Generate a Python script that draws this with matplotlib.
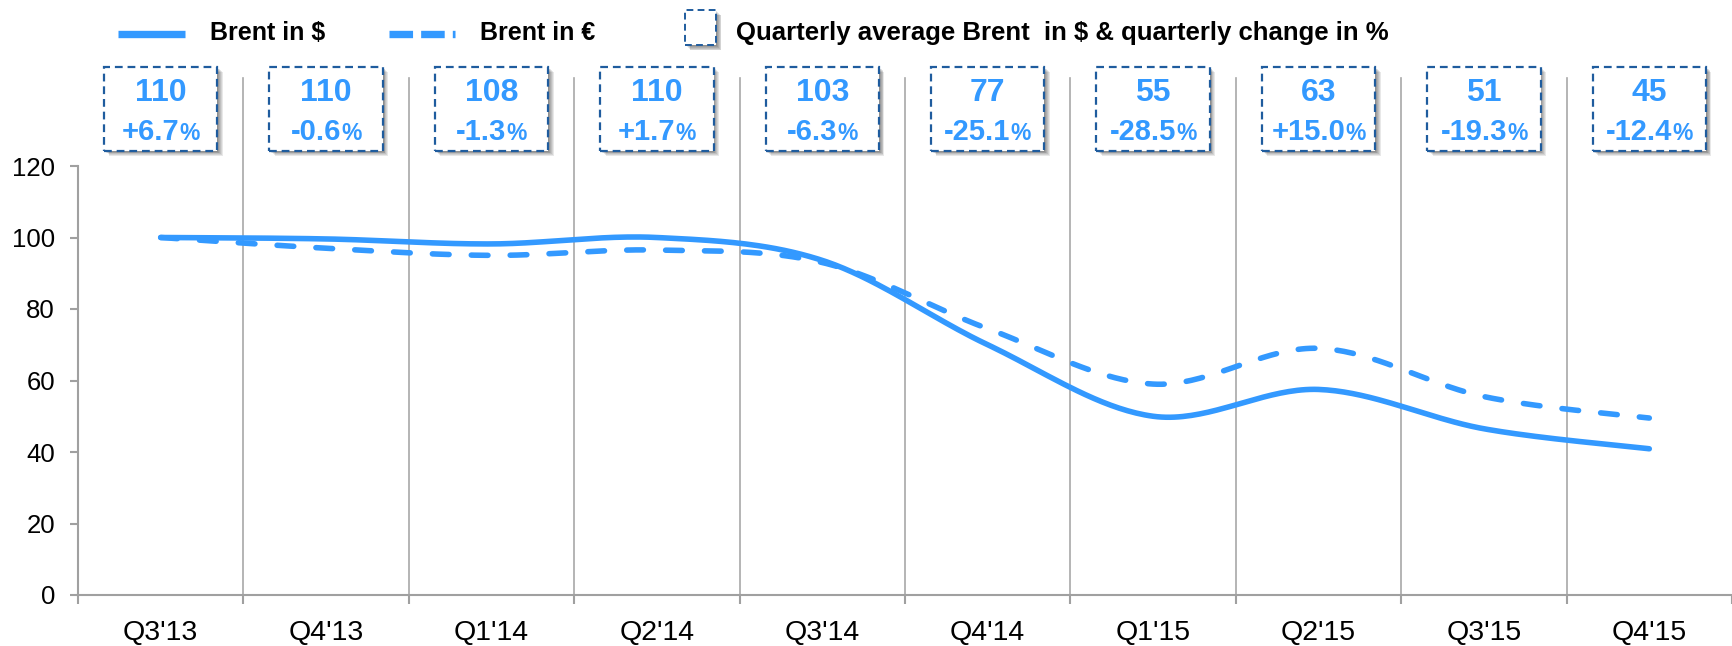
import matplotlib
matplotlib.use("Agg")
import matplotlib.pyplot as plt
import matplotlib.transforms as mtransforms
from matplotlib.lines import Line2D
from matplotlib.patches import Rectangle
from matplotlib.offsetbox import TextArea, HPacker, AnnotationBbox
import numpy as np

plt.rcParams['font.family'] = ['Liberation Sans', 'DejaVu Sans']

quarters = ["Q3'13", "Q4'13", "Q1'14", "Q2'14", "Q3'14", "Q4'14", "Q1'15", "Q2'15", "Q3'15", "Q4'15"]
brent_usd_idx = [100, 99.6, 98.2, 100, 93.6, 70, 50, 57.5, 46.5, 40.9]   # indexed, Q3'13 = 100
brent_eur_idx = [100, 97, 95, 96.5, 93, 74.5, 59, 69, 55.5, 49.5]
avg_usd = [110, 110, 108, 110, 103, 77, 55, 63, 51, 45]
qoq_change = ["+6.7", "-0.6", "-1.3", "+1.7", "-6.3", "-25.1", "-28.5", "+15.0", "-19.3", "-12.4"]

BLUE = "#3399ff"
NAVY = "#1f5c9e"
GREY = "#a0a0a0"

W, H = 1732, 646


def fx(px):
    return px / W


def fy(py):
    return 1 - py / H


def smooth(xs, ys, steps=40):
    """Excel style smoothed line: catmull-rom segments drawn as cubic beziers"""
    p = np.column_stack([xs, ys]).astype(float)
    p = np.vstack([p[0], p, p[-1]])
    t = np.linspace(0, 1, steps)[:, None]
    out = []
    for i in range(1, len(p) - 2):
        p0, p1, p2, p3 = p[i - 1], p[i], p[i + 1], p[i + 2]
        c1 = p1 + (p2 - p0) / 6
        c2 = p2 - (p3 - p1) / 6
        seg = (1 - t) ** 3 * p1 + 3 * (1 - t) ** 2 * t * c1 + 3 * (1 - t) * t ** 2 * c2 + t ** 3 * p2
        out.append(seg if i == 1 else seg[1:])
    out = np.vstack(out)
    return out[:, 0], out[:, 1]


def shadowed_box(x0, y0, w, h, trans, lw=1.6):
    # soft grey drop shadow, then white box with dashed navy border
    for k in range(1, 7):
        off = mtransforms.offset_copy(trans, fig=fig, x=k * 0.9, y=-k * 0.9, units='dots')
        fig.add_artist(Rectangle((x0, y0), w, h, transform=off, facecolor='#000000',
                                 edgecolor='none', alpha=0.09, clip_on=False, zorder=4))
    fig.add_artist(Rectangle((x0, y0), w, h, transform=trans, facecolor='white',
                             edgecolor=NAVY, lw=lw, ls=(0, (3.5, 2.2)), clip_on=False, zorder=5))


fig = plt.figure(figsize=(W / 100, H / 100), dpi=100)
ax = fig.add_axes([fx(78), 51 / H, 1 - fx(78), (595 - 166) / H])
x = np.arange(len(quarters))
ax.set_xlim(-0.5, -0.5 + (W - 78) / 166.6)
ax.set_ylim(0, 120)

# vertical separators between quarters, running up into the box row
for b in np.arange(0.5, len(quarters) - 1, 1):
    ax.axvline(b, ymin=0, ymax=(595 - 78) / (595 - 166), color='#a8a8a8', lw=1.2,
               clip_on=False, zorder=0)

sx, sy = smooth(x, brent_usd_idx)
ax.plot(sx, sy, color=BLUE, lw=4, solid_capstyle='round', zorder=3)
ex, ey = smooth(x, brent_eur_idx)
ax.plot(ex, ey, color=BLUE, lw=4, ls=(0, (3, 4)), dash_capstyle='round', zorder=3)

ax.set_xticks(np.arange(-0.5, len(quarters), 1))
ax.set_xticklabels([])
ax.set_xticks(x, minor=True)
ax.set_xticklabels(quarters, minor=True, fontsize=20.5)
ax.tick_params(axis='x', which='major', length=6.5, width=1.5, color=GREY, direction='out')
ax.tick_params(axis='x', which='minor', length=0, pad=18)
ax.set_yticks(range(0, 121, 20))
ax.tick_params(axis='y', length=5.5, width=1.5, color=GREY, labelsize=18.5, pad=11)
for s in ['top', 'right']:
    ax.spines[s].set_visible(False)
for s in ['left', 'bottom']:
    ax.spines[s].set_color(GREY)
    ax.spines[s].set_linewidth(1.5)

# quarterly average boxes
trans = mtransforms.blended_transform_factory(ax.transData, fig.transFigure)
bw = 0.685
for i in range(len(quarters)):
    shadowed_box(x[i] - bw / 2, fy(150.7), bw, (150.7 - 66.7) / H, trans)
    fig.text(x[i], fy(93), str(avg_usd[i]), transform=trans, fontsize=23, fontweight='bold',
             color=BLUE, ha='center', va='center', zorder=6)
    pct = HPacker(children=[TextArea(qoq_change[i], textprops=dict(color=BLUE, fontsize=21, fontweight='bold')),
                            TextArea('%', textprops=dict(color=BLUE, fontsize=16.5, fontweight='bold'))],
                  align='baseline', pad=0, sep=0)
    ab = AnnotationBbox(pct, (x[i], fy(132)), xycoords=trans, box_alignment=(0.5, 0.5),
                        frameon=False, annotation_clip=False, zorder=6)
    fig.add_artist(ab)

# legend row
fig.add_artist(Line2D([fx(118), fx(185)], [fy(33.7)] * 2, lw=5.3, color=BLUE, solid_capstyle='butt'))
fig.text(fx(210), fy(33), 'Brent in $', fontsize=18, fontweight='bold', va='center')
fig.add_artist(Line2D([fx(389), fx(455)], [fy(33.7)] * 2, lw=5.3, color=BLUE, ls=(0, (3.2, 1.1)),
                      dash_capstyle='butt'))
fig.text(fx(480), fy(33), 'Brent in \u20ac', fontsize=18, fontweight='bold', va='center')
shadowed_box(fx(685), fy(45), fx(716) - fx(685), 35 / H, fig.transFigure, lw=1.4)
fig.text(fx(736), fy(33), 'Quarterly average Brent  in $ & quarterly change in %', fontsize=18.5,
         fontweight='bold', va='center')

fig.savefig('out.png', dpi=100)
